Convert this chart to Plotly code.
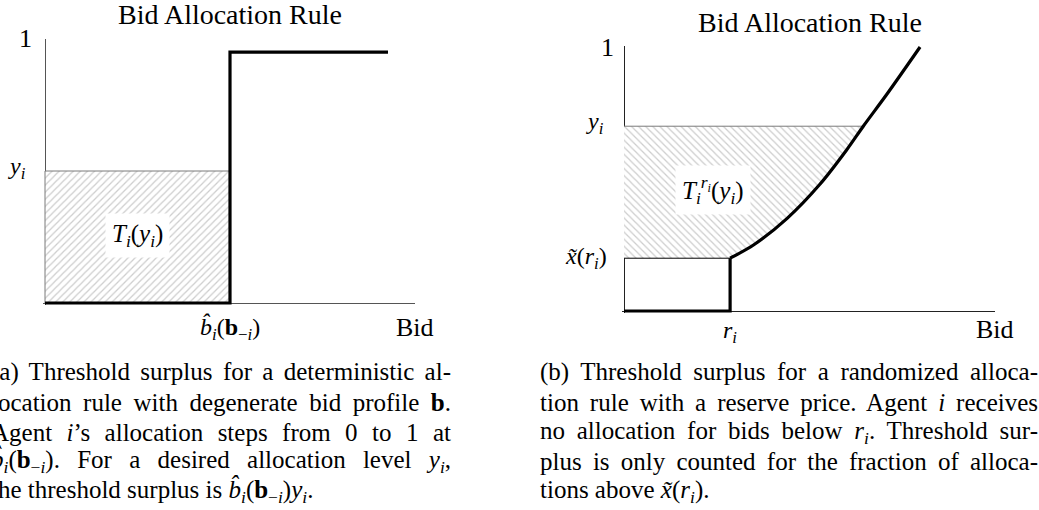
import json
import plotly.graph_objects as go

W, H = 1039, 510
FONT = "Liberation Serif"

# ---------------- data ----------------
# (a) deterministic allocation rule
a_rule_x = [0, 5.0, 5.0, 9.27]
a_rule_y = [0, 0, 0.95, 0.95]
a_threshold = 5.0      # \hat b_i(b_-i)
a_level = 0.5          # y_i

# (b) randomized allocation rule with reserve
b_reserve = 2.86       # r_i
b_xtilde = 0.20        # \tilde x(r_i)
b_level = 0.70         # y_i
b_curve_x = [2.86, 3.49, 4.39, 5.28, 6.00, 6.45, 7.08, 7.98]
b_curve_y = [0.20, 0.25, 0.35, 0.48, 0.61, 0.70, 0.82, 1.00]

title_text = "Bid Allocation Rule"
xlabel_text = "Bid"

cap_a = [
    "(a) Threshold surplus for a deterministic al-",
    "location rule with degenerate bid profile <b>b</b>.",
    "Agent <i>i</i>\u2019s allocation steps from 0 to 1 at",
    "<i>b\u0302</i><sub><i>i</i></sub>(<b>b</b><sub>\u2212<i>i</i></sub>). For a desired allocation level <i>y</i><sub><i>i</i></sub>,",
    "the threshold surplus is <i>b\u0302</i><sub><i>i</i></sub>(<b>b</b><sub>\u2212<i>i</i></sub>)<i>y</i><sub><i>i</i></sub>.",
]
cap_b = [
    "(b) Threshold surplus for a randomized alloca-",
    "tion rule with a reserve price. Agent <i>i</i> receives",
    "no allocation for bids below <i>r</i><sub><i>i</i></sub>. Threshold sur-",
    "plus is only counted for the fraction of alloca-",
    "tions above <i>x\u0303</i>(<i>r</i><sub><i>i</i></sub>).",
]
cap_rows_py = [372, 402, 432, 461, 491]


# ---------------- helpers ----------------
def dom_x(px0, px1, d0, d1, r0, r1):
    s = (px1 - px0) / (d1 - d0)
    return [(px0 + (r0 - d0) * s) / W, (px0 + (r1 - d0) * s) / W]


def dom_y(py0, py1, d0, d1, r0, r1):
    s = (py0 - py1) / (d1 - d0)
    return [1 - (py0 - (r0 - d0) * s) / H, 1 - (py0 - (r1 - d0) * s) / H]


fig = go.Figure()
HATCH = "#9c9c9c"

# ---- panel (a) ----
fig.add_trace(go.Scatter(
    x=[0, a_threshold, a_threshold, 0, 0], y=[0, 0, a_level, a_level, 0],
    fill="toself", fillcolor="white",
    fillpattern=dict(shape="/", fgcolor=HATCH, bgcolor="white", size=5, solidity=0.25),
    line=dict(color="#7a7a7a", width=1), mode="lines", hoverinfo="skip",
    xaxis="x", yaxis="y"))
fig.add_trace(go.Scatter(
    x=a_rule_x, y=a_rule_y, mode="lines",
    line=dict(color="black", width=3.2), hoverinfo="skip", xaxis="x", yaxis="y"))

# ---- panel (b) ----
hx = [0, b_reserve] + [x for x, y in zip(b_curve_x, b_curve_y) if y <= b_level] + [0, 0]
hy = [b_xtilde, b_xtilde] + [y for y in b_curve_y if y <= b_level] + [b_level, b_xtilde]
fig.add_trace(go.Scatter(
    x=hx, y=hy, fill="toself", fillcolor="white",
    fillpattern=dict(shape="\\", fgcolor=HATCH, bgcolor="white", size=5, solidity=0.25),
    line=dict(width=0), mode="lines", hoverinfo="skip", xaxis="x2", yaxis="y2"))
lvl_x = [x for x, y in zip(b_curve_x, b_curve_y) if y == b_level][0]
fig.add_trace(go.Scatter(
    x=[0, lvl_x], y=[b_level, b_level], mode="lines",
    line=dict(color="#7a7a7a", width=1), hoverinfo="skip", xaxis="x2", yaxis="y2"))
fig.add_trace(go.Scatter(
    x=[0, b_reserve], y=[b_xtilde, b_xtilde], mode="lines",
    line=dict(color="black", width=1), hoverinfo="skip", xaxis="x2", yaxis="y2"))
fig.add_trace(go.Scatter(
    x=[0, b_reserve, b_reserve], y=[0, 0, b_xtilde], mode="lines",
    line=dict(color="black", width=3.2), hoverinfo="skip", xaxis="x2", yaxis="y2"))
fig.add_trace(go.Scatter(
    x=b_curve_x, y=b_curve_y, mode="lines",
    line=dict(color="black", width=3.2, shape="spline", smoothing=0.8),
    hoverinfo="skip", xaxis="x2", yaxis="y2"))

# ---------------- axes ----------------
common = dict(showgrid=False, showticklabels=False, ticks="", showline=False,
              zeroline=True, zerolinewidth=1, fixedrange=True)
ax_rx = [-0.06, 10]
ax_ry_a = [-0.008, 1.0]
ax_ry_b = [-0.008, 1.004]
fig.update_layout(
    xaxis=dict(domain=dom_x(45, 415, 0, 10, *ax_rx), range=ax_rx, anchor="y",
               zerolinecolor="#555", **common),
    yaxis=dict(domain=dom_y(303, 39, 0, 1, *ax_ry_a), range=ax_ry_a, anchor="x",
               zerolinecolor="#555", **common),
    xaxis2=dict(domain=dom_x(624, 995, 0, 10, *ax_rx), range=ax_rx, anchor="y2",
                zerolinecolor="#222", **common),
    yaxis2=dict(domain=dom_y(311, 47, 0, 1, *ax_ry_b), range=ax_ry_b, anchor="x2",
                zerolinecolor="#222", **common),
)

# ---------------- text ----------------
ann = []
just = {}


def A(size=23, **kw):
    d = dict(showarrow=False, xanchor="center", yanchor="middle",
             font=dict(family=FONT, size=size, color="black"))
    d.update(kw)
    ann.append(d)
    return len(ann) - 1


def pxy(px, py):
    return px / W, 1 - py / H


# titles
for cx, cy in [(230, 14), (810, 23)]:
    x, y = pxy(cx, cy)
    A(text=title_text, x=x, y=y, xref="paper", yref="paper", size=28)

# panel (a) labels
A(text="1", x=0, y=1.0, xref="x", yref="y", xanchor="right", xshift=-11, size=26)
A(text="<i>y</i><sub><i>i</i></sub>", x=0, y=a_level, xref="x", yref="y",
  xanchor="right", xshift=-17, yshift=3, size=24)
A(text="<i>b\u0302</i><sub><i>i</i></sub>(<b>b</b><sub>\u2212<i>i</i></sub>)",
  x=a_threshold, y=0, xref="x", yref="y", yanchor="top", yshift=-8, size=24)
A(text=xlabel_text, x=10, y=0, xref="x", yref="y", yanchor="top", yshift=-8, size=26)
A(text="<i>T</i><sub><i>i</i></sub>(<i>y</i><sub><i>i</i></sub>)", x=2.51, y=0.254,
  xref="x", yref="y", bgcolor="white", borderpad=6, size=25)

# panel (b) labels
A(text="1", x=0, y=1.0, xref="x2", yref="y2", xanchor="right", xshift=-8, size=26)
A(text="<i>y</i><sub><i>i</i></sub>", x=0, y=b_level, xref="x2", yref="y2",
  xanchor="right", xshift=-18, yshift=3, size=24)
A(text="<i>x\u0303</i>(<i>r</i><sub><i>i</i></sub>)", x=0, y=b_xtilde, xref="x2", yref="y2",
  xanchor="right", xshift=-15, size=24)
A(text="<i>r</i><sub><i>i</i></sub>", x=b_reserve, y=0, xref="x2", yref="y2",
  yanchor="top", yshift=-4, size=24)
A(text=xlabel_text, x=10, y=0, xref="x2", yref="y2", yanchor="top", yshift=-2, size=26)
A(text="<i>T</i><sub><i>i</i></sub><sup><i>r</i><sub><i>i</i></sub></sup>(<i>y</i><sub><i>i</i></sub>)",
  x=2.40, y=0.458, xref="x2", yref="y2", bgcolor="white", borderpad=6, size=25)

# captions
for i, (line, py) in enumerate(zip(cap_a, cap_rows_py)):
    x, y = pxy(-11, py)
    k = A(text=line, x=x, y=y, xref="paper", yref="paper", xanchor="left", align="left", size=25)
    if i < 4:
        just[k] = 449 - (-11)
for i, (line, py) in enumerate(zip(cap_b, cap_rows_py)):
    x, y = pxy(538, py)
    k = A(text=line, x=x, y=y, xref="paper", yref="paper", xanchor="left", align="left", size=25)
    if i < 4:
        just[k] = 1036 - 538

fig.update_layout(
    annotations=ann, width=W, height=H, autosize=False,
    margin=dict(l=0, r=0, t=0, b=0), showlegend=False,
    paper_bgcolor="white", plot_bgcolor="white",
    font=dict(family=FONT, color="black"),
)

post = """
(function(){
  document.documentElement.style.margin = '0';
  document.body.style.margin = '0';
  document.body.style.overflow = 'hidden';
  var targets = %s;
  var gd = document.getElementById('{plot_id}');
  try {
    var groups = gd.querySelectorAll('g.annotation');
    groups.forEach(function(g){
      var idx = g.getAttribute('data-index');
      var w = targets[idx];
      if(!w) return;
      var t = g.querySelector('text.annotation-text');
      if(!t) return;
      var n = (t.textContent.match(/[ \\u00a0]/g)||[]).length;
      if(!n) return;
      var cur = t.getBBox().width;
      t.style.wordSpacing = ((w-cur)/n) + 'px';
    });
  } catch(e) {}
})();
""" % json.dumps({str(k): v for k, v in just.items()})

fig.write_html("out.html", post_script=post, config={"displayModeBar": False})
